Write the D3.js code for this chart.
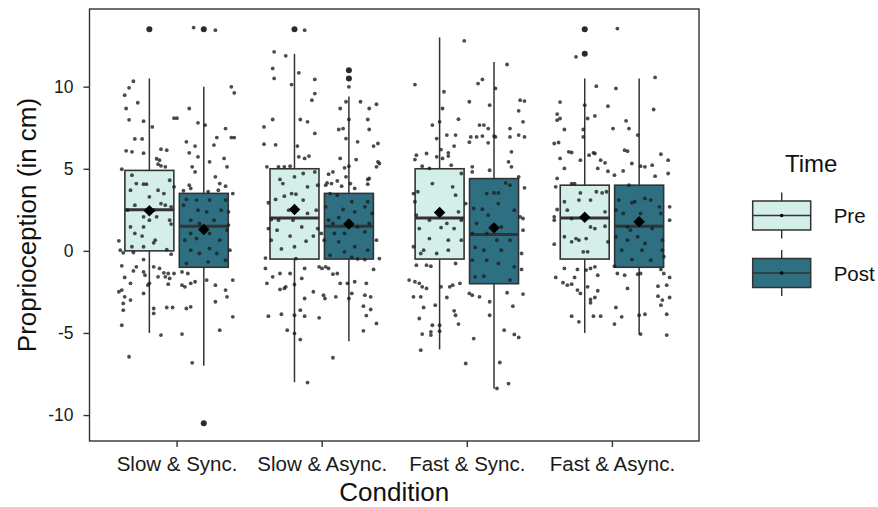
<!DOCTYPE html>
<html lang="en">
<head>
<meta charset="UTF-8">
<title>Proprioception by Condition and Time</title>
<script src="https://d3js.org/d3.v7.min.js"></script>
<style>
  body { margin: 0; background: #fff; }
  svg { display: block; font-family: "Liberation Sans", Arial, sans-serif; }
</style>
</head>
<body>
<svg id="chart" width="878" height="507"></svg>
<script>
// categories and groups
const conditions = ["Slow & Sync.", "Slow & Async.", "Fast & Sync.", "Fast & Async."];
const times = ["Pre", "Post"];
const yTicks = [-10, -5, 0, 5, 10];

// box statistics, one [Pre, Post] pair per condition
const whiskerLow  = [[-5, -7], [-8, -5.5], [-6, -8.4], [-5, -5.1]];
const q1          = [[0, -1], [-0.5, -0.5], [-0.5, -2], [-0.5, -1]];
const median      = [[2.5, 1.5], [2.0, 1.5], [2.0, 1.0], [2.0, 1.5]];
const q3          = [[4.9, 3.5], [5, 3.5], [5, 4.4], [4.0, 4.0]];
const whiskerHigh = [[10.5, 10], [12, 9.4], [13, 11.5], [10.5, 10.5]];
const means       = [[2.44, 1.3], [2.52, 1.63], [2.33, 1.4], [2.05, 1.77]];
const outliers    = [[[13.5], [13.5, -10.5]], [[13.5], [11, 10.5]], [[], []], [[13.5, 12], []]];

// jittered observations: [horizontal jitter (category units), value in cm]
const slowSyncPre = [[-0.11,10.33],[-0.14,9.93],[-0.17,9.48],[-0.08,9.02],[-0.16,8.67],[-0.14,7.98],[-0.04,7.9],[0.02,7.55],[0.17,8.08],[0.19,8.08],[-0.10,6.82],[-0.05,6.82],[-0.16,6.09],[-0.12,6.03],[-0.04,5.95],[0.08,6.19],[0.12,6.13],[0.05,5.61],[0.07,5.52],[0.06,5.28],[0.08,5.18],[0.11,5.12],[-0.19,4.97],[-0.12,4.61],[-0.09,4.1],[-0.04,4.06],[-0.02,4.06],[0.14,4.3],[0.17,3.9],[-0.13,3.69],[0.06,3.69],[0.10,3.49],[0.0,3.29],[-0.10,2.78],[0.08,2.88],[0.11,2.78],[0.15,2.68],[-0.15,2.48],[0.03,2.48],[-0.04,2.07],[0.05,2.07],[0.0,1.87],[0.14,1.87],[0.15,1.63],[-0.13,1.46],[-0.04,1.46],[-0.10,1.06],[-0.05,0.9],[-0.21,0.61],[0.04,0.65],[0.03,0.49],[-0.12,0.25],[-0.04,0.25],[0.12,0.08],[-0.20,0.04],[-0.18,-0.12],[-0.11,-0.1],[-0.04,-0.53],[0.03,-0.97],[0.15,-0.2],[-0.19,-0.91],[-0.09,-0.97],[-0.04,-1.28],[0.07,-1.07],[0.10,-1.34],[0.11,-1.58],[0.13,-1.38],[0.14,-1.68],[0.17,-1.38],[-0.17,-1.62],[-0.11,-1.22],[-0.03,-1.48],[0.0,-1.98],[-0.01,-2.09],[-0.13,-1.98],[0.06,-1.58],[0.13,-2.03],[-0.19,-2.39],[-0.17,-2.8],[-0.04,-2.59],[-0.21,-2.49],[-0.13,-3.0],[-0.18,-3.2],[-0.18,-3.61],[0.03,-3.51],[0.03,-3.81],[0.12,-3.45],[0.16,-3.45],[-0.19,-4.53],[0.08,-5.13],[-0.14,-6.45]];
const slowSyncPost = [[-0.07,13.6],[0.08,13.44],[0.19,9.99],[0.21,9.62],[-0.10,8.67],[-0.04,7.8],[0.01,7.66],[0.15,7.45],[0.09,6.9],[0.19,6.9],[0.21,6.9],[-0.12,6.64],[0.07,6.44],[-0.06,6.38],[-0.10,5.97],[-0.04,5.73],[0.04,5.42],[0.14,5.63],[0.16,5.12],[-0.08,5.12],[-0.06,4.81],[0.08,4.51],[0.11,4.1],[0.15,3.94],[-0.10,4.0],[-0.09,3.8],[-0.14,3.66],[0.03,3.6],[0.10,3.69],[0.20,3.49],[-0.12,3.13],[-0.05,3.09],[0.04,3.09],[0.15,3.09],[-0.14,2.78],[-0.04,2.48],[0.02,2.38],[0.12,2.48],[0.17,2.38],[-0.09,1.87],[-0.03,1.67],[0.07,1.87],[0.17,1.57],[-0.09,1.06],[0.04,1.06],[0.16,1.26],[-0.13,0.65],[-0.05,0.75],[0.11,0.65],[0.04,0.14],[-0.09,0.04],[0.09,-0.16],[-0.03,-0.16],[0.18,0.04],[0.15,-0.57],[-0.12,-0.77],[0.03,-0.67],[-0.15,-1.28],[-0.11,-1.38],[0.02,-1.78],[0.20,-1.78],[-0.15,-2.09],[-0.09,-1.98],[-0.06,-1.88],[0.08,-2.09],[0.15,-2.39],[-0.13,-2.19],[-0.09,-3.41],[0.08,-3.1],[0.16,-2.8],[-0.12,-3.51],[0.20,-4.02],[-0.15,-5.07],[0.11,-4.83],[-0.08,-6.82]];
const slowAsyncPre = [[0.07,13.44],[-0.14,12.12],[-0.06,11.88],[-0.15,11.11],[-0.14,10.5],[0.03,10.84],[0.14,10.44],[-0.02,10.13],[0.14,9.58],[0.12,9.18],[-0.21,7.55],[-0.15,8.0],[0.04,8.0],[0.09,7.86],[0.14,7.15],[-0.21,6.5],[-0.13,6.46],[0.02,6.38],[0.07,5.63],[0.10,5.77],[0.03,5.73],[-0.19,5.12],[-0.11,5.12],[-0.07,5.12],[-0.03,5.16],[0.06,4.71],[0.14,4.81],[-0.10,4.35],[-0.08,4.1],[0.0,4.51],[0.16,4.0],[0.09,3.9],[-0.13,3.13],[-0.07,3.33],[-0.02,3.49],[0.01,3.45],[0.06,3.09],[-0.18,2.93],[-0.04,2.48],[-0.11,1.87],[0.09,2.28],[0.15,2.48],[-0.16,1.91],[-0.01,1.87],[0.05,1.46],[-0.18,1.36],[-0.12,1.26],[0.16,1.36],[-0.03,0.9],[0.13,0.9],[-0.16,0.65],[0.08,0.59],[-0.09,0.12],[0.0,0.25],[-0.20,-0.44],[0.01,-0.47],[-0.20,-1.07],[-0.15,-1.58],[-0.10,-1.38],[-0.03,-1.38],[0.07,-1.07],[0.17,-0.97],[0.19,-1.07],[0.05,-1.68],[-0.19,-1.98],[-0.10,-2.35],[-0.06,-2.19],[-0.07,-2.29],[0.0,-2.05],[0.07,-2.9],[0.13,-2.49],[0.20,-2.7],[0.21,-2.9],[0.04,-3.61],[0.07,-3.98],[-0.09,-3.86],[-0.18,-3.98],[0.0,-3.92],[-0.05,-4.83],[0.0,-5.03],[0.04,-5.4],[0.17,-4.08],[0.09,-8.02]];
const slowAsyncPost = [[0.0,9.99],[0.08,9.08],[0.14,8.67],[0.19,8.93],[-0.06,8.67],[-0.02,9.08],[0.13,8.0],[0.14,7.39],[-0.07,7.39],[-0.04,7.45],[0.0,8.0],[0.06,6.64],[0.20,6.54],[0.17,6.38],[-0.02,6.84],[-0.06,5.63],[0.05,5.56],[0.20,5.42],[0.21,5.32],[0.19,5.12],[0.0,5.16],[-0.03,5.06],[-0.11,4.81],[-0.14,4.67],[-0.15,4.14],[-0.12,4.1],[-0.16,4.0],[-0.08,4.26],[-0.02,4.51],[0.13,4.35],[0.14,4.41],[0.13,4.06],[0.01,4.1],[-0.05,3.94],[0.04,3.8],[-0.13,3.49],[-0.08,3.39],[0.02,2.99],[0.13,2.99],[-0.16,2.68],[-0.04,2.52],[0.11,2.68],[0.16,2.28],[0.04,2.38],[-0.14,1.87],[-0.07,2.03],[-0.11,1.67],[0.06,1.46],[0.14,1.67],[-0.19,1.06],[-0.10,1.06],[-0.03,1.06],[0.11,1.16],[0.19,0.65],[-0.17,0.65],[-0.07,0.55],[0.04,0.25],[0.13,0.04],[-0.03,-0.06],[-0.13,-0.26],[0.02,-0.4],[0.21,-0.47],[0.06,-0.49],[0.11,-0.53],[-0.16,-0.97],[-0.14,-1.07],[-0.11,-1.42],[-0.08,-1.38],[0.17,-1.13],[-0.06,-1.98],[-0.01,-1.98],[0.04,-1.88],[0.12,-1.98],[-0.09,-2.8],[0.02,-2.59],[0.0,-2.9],[0.11,-2.7],[0.15,-2.8],[0.10,-3.37],[0.15,-3.57],[0.12,-3.94],[0.19,-4.42],[0.10,-4.87],[-0.11,-6.51]];
const fastSyncPre = [[0.17,12.79],[-0.17,10.13],[0.03,9.69],[0.02,8.67],[0.13,8.02],[-0.05,7.66],[0.0,7.86],[-0.02,6.84],[0.05,7.05],[0.11,7.05],[0.10,6.38],[0.01,6.17],[0.06,5.97],[0.06,5.77],[-0.09,5.93],[-0.16,5.83],[-0.17,5.56],[-0.02,5.73],[0.02,5.63],[0.08,5.22],[-0.12,5.16],[-0.07,5.02],[0.15,4.71],[-0.05,4.1],[0.09,3.9],[-0.15,3.6],[-0.18,3.49],[0.11,3.39],[-0.17,2.99],[0.18,2.88],[0.13,2.38],[-0.16,2.18],[-0.07,1.87],[0.05,1.67],[0.15,1.87],[0.01,1.42],[0.10,1.36],[-0.14,1.36],[-0.07,0.75],[0.06,0.65],[0.15,0.65],[-0.18,0.25],[-0.11,0.04],[-0.13,-0.16],[-0.02,-0.16],[0.06,0.04],[-0.16,-0.87],[-0.09,-0.87],[-0.06,-0.93],[0.11,-0.77],[-0.21,-1.78],[-0.17,-1.88],[-0.14,-1.98],[-0.12,-2.19],[-0.09,-2.29],[0.01,-2.19],[0.07,-2.19],[0.09,-2.09],[0.14,-1.98],[-0.18,-2.8],[-0.13,-2.8],[0.05,-2.84],[-0.11,-3.45],[-0.03,-3.31],[0.10,-3.65],[0.11,-3.92],[-0.14,-4.12],[0.13,-4.46],[-0.05,-4.53],[0.0,-4.53],[-0.12,-5.07],[-0.06,-4.93],[-0.06,-5.13],[0.0,-4.89],[-0.13,-6.05],[0.18,-6.86]];
const fastSyncPost = [[-0.17,9.08],[0.09,11.35],[-0.08,10.44],[-0.11,10.19],[0.01,9.89],[-0.03,8.87],[0.18,9.18],[0.21,9.12],[0.17,8.53],[0.20,7.86],[-0.10,7.66],[-0.07,7.66],[-0.04,7.45],[0.11,7.45],[0.17,7.05],[-0.16,6.94],[-0.12,6.94],[-0.08,6.99],[0.0,6.99],[0.01,6.94],[0.11,6.94],[0.21,6.94],[-0.04,6.58],[-0.17,6.62],[0.12,6.03],[0.10,5.42],[0.12,5.12],[-0.03,4.91],[-0.15,5.12],[0.17,4.51],[-0.15,4.81],[0.08,4.14],[0.11,4.0],[0.21,3.84],[-0.05,3.49],[0.0,3.53],[0.03,3.53],[0.03,2.88],[-0.14,2.58],[-0.08,2.54],[-0.04,2.18],[0.14,2.48],[0.18,2.07],[0.20,1.97],[-0.12,1.67],[0.05,1.46],[-0.15,1.06],[-0.05,1.06],[0.20,1.26],[0.11,0.65],[0.02,0.65],[-0.13,0.21],[-0.07,0.04],[0.05,0.04],[0.19,-0.16],[-0.15,-0.57],[-0.05,-0.57],[0.03,-0.77],[0.14,-0.97],[0.19,-1.13],[-0.13,-1.58],[-0.07,-1.54],[0.11,-1.78],[-0.17,-2.59],[-0.15,-2.7],[-0.10,-2.8],[-0.03,-3.1],[0.09,-2.55],[0.20,-2.63],[0.13,-3.37],[-0.03,-3.92],[-0.14,-5.34],[0.07,-4.83],[0.14,-5.09],[0.17,-5.27],[0.04,-6.8],[0.02,-8.38],[0.10,-8.08]];
const fastAsyncPre = [[-0.06,11.82],[0.08,10.03],[-0.17,9.06],[-0.19,8.33],[-0.17,8.06],[-0.19,7.96],[0.02,8.06],[0.07,8.22],[-0.14,7.39],[-0.01,7.39],[-0.01,6.94],[0.0,8.87],[-0.21,6.54],[-0.18,6.6],[-0.17,5.63],[-0.11,6.03],[-0.09,5.99],[0.03,5.83],[0.06,5.97],[0.07,5.93],[0.11,5.52],[0.14,5.36],[-0.14,5.02],[-0.03,5.52],[-0.19,4.41],[0.09,5.02],[0.16,4.85],[0.16,8.81],[-0.09,4.1],[-0.07,4.1],[-0.20,3.9],[0.08,3.6],[0.12,3.53],[0.15,3.6],[-0.14,2.99],[-0.03,3.53],[-0.04,3.09],[0.04,3.09],[-0.19,2.52],[-0.12,2.48],[0.14,2.38],[-0.21,2.07],[-0.21,1.87],[-0.09,1.97],[0.04,1.46],[0.07,1.36],[0.14,1.5],[-0.14,0.86],[-0.06,0.75],[0.01,0.75],[-0.04,0.65],[-0.09,0.55],[-0.21,0.41],[0.16,0.55],[-0.01,-0.06],[0.02,-0.06],[-0.14,-1.07],[-0.05,-1.13],[0.01,-1.17],[0.04,-1.07],[0.07,-0.97],[0.09,-1.48],[-0.20,-1.62],[-0.15,-1.94],[-0.12,-2.09],[-0.09,-2.03],[-0.07,-1.62],[-0.05,-2.39],[-0.03,-2.59],[0.02,-2.19],[0.09,-2.43],[0.04,-2.96],[0.07,-2.84],[0.04,-3.16],[-0.09,-3.98],[0.06,-3.98],[0.11,-3.98],[-0.04,-4.32]];
const fastAsyncPost = [[-0.15,13.54],[0.11,10.56],[-0.16,9.89],[0.10,8.61],[-0.09,7.92],[-0.18,7.45],[-0.07,7.45],[-0.01,7.05],[-0.10,6.13],[-0.08,6.07],[-0.05,5.32],[-0.11,4.87],[-0.17,4.61],[0.01,5.16],[0.04,5.12],[0.09,5.22],[0.11,4.55],[0.15,5.89],[0.20,5.52],[0.20,4.71],[-0.07,4.0],[0.04,3.19],[-0.03,2.99],[0.08,3.09],[-0.05,2.93],[-0.14,3.09],[0.14,2.68],[0.21,2.68],[-0.16,2.48],[-0.11,2.28],[0.01,2.28],[0.15,2.28],[0.21,1.87],[-0.08,1.46],[-0.06,1.26],[0.09,1.36],[-0.16,0.86],[-0.08,0.65],[-0.01,0.86],[0.04,0.45],[0.16,0.65],[-0.12,0.04],[-0.05,-0.53],[0.02,0.04],[0.08,-0.57],[0.16,0.04],[0.17,-0.36],[-0.17,-0.93],[-0.15,-1.38],[-0.10,-1.48],[-0.01,-1.42],[0.01,-1.38],[0.15,-1.13],[0.17,-1.38],[0.21,-1.62],[-0.08,-2.29],[0.13,-2.15],[0.19,-2.09],[0.13,-2.76],[0.16,-3.0],[0.21,-2.84],[0.15,-3.31],[-0.16,-3.45],[-0.12,-4.02],[0.04,-3.86],[0.0,-3.92],[0.19,-3.86],[-0.17,-4.46],[0.01,-5.07],[0.19,-5.13]];
const observations = [[slowSyncPre, slowSyncPost], [slowAsyncPre, slowAsyncPost], [fastSyncPre, fastSyncPost], [fastAsyncPre, fastAsyncPost]];

// layout
const panel = { left: 89.5, right: 699, top: 9, bottom: 441 };
const svg = d3.select("#chart");

const x = d3.scalePoint()
    .domain(conditions)
    .range([panel.left, panel.right])
    .padding(0.6);
const step = x.step();

const dodge = d3.scaleBand()
    .domain(times)
    .range([-0.375 * step, 0.375 * step])
    .paddingInner(0.1)
    .paddingOuter(0.05);
const jitter = d3.scaleLinear().domain([0, 1]).range([0, step]);

const y = d3.scaleLinear()
    .domain([-11.58, 14.73])
    .range([panel.bottom, panel.top]);

const fill = d3.scaleOrdinal().domain(times).range(["#d4eeea", "#2f6f82"]);
const lineCol = "#333333";

// boxes
const boxData = [];
conditions.forEach((c, i) => {
    times.forEach((t, j) => {
        boxData.push({
            cond: c, time: t,
            lo: whiskerLow[i][j], q1: q1[i][j], med: median[i][j], q3: q3[i][j],
            hi: whiskerHigh[i][j], mean: means[i][j], out: outliers[i][j],
            pts: observations[i][j]
        });
    });
});
const cx = d => x(d.cond) + dodge(d.time) + dodge.bandwidth() / 2;
const bw = dodge.bandwidth();

const boxes = svg.append("g").selectAll("g").data(boxData).join("g");

boxes.append("line")
    .attr("x1", cx).attr("x2", cx)
    .attr("y1", d => y(d.hi)).attr("y2", d => y(d.q3))
    .attr("stroke", lineCol).attr("stroke-width", 1.5);
boxes.append("line")
    .attr("x1", cx).attr("x2", cx)
    .attr("y1", d => y(d.q1)).attr("y2", d => y(d.lo))
    .attr("stroke", lineCol).attr("stroke-width", 1.5);
boxes.append("rect")
    .attr("x", d => cx(d) - bw / 2)
    .attr("width", bw)
    .attr("y", d => y(d.q3))
    .attr("height", d => y(d.q1) - y(d.q3))
    .attr("fill", d => fill(d.time))
    .attr("stroke", lineCol).attr("stroke-width", 1.6);
boxes.append("line")
    .attr("x1", d => cx(d) - bw / 2).attr("x2", d => cx(d) + bw / 2)
    .attr("y1", d => y(d.med)).attr("y2", d => y(d.med))
    .attr("stroke", lineCol).attr("stroke-width", 3);
boxes.selectAll("circle.out")
    .data(d => d.out.map(v => ({ x: cx(d), v })))
    .join("circle")
    .attr("class", "out")
    .attr("cx", d => d.x).attr("cy", d => y(d.v))
    .attr("r", 3)
    .attr("fill", "#2b2b2b");

// jittered points
boxes.selectAll("circle.pt")
    .data(d => d.pts.map(p => ({ x: cx(d) + jitter(p[0]), v: p[1] })))
    .join("circle")
    .attr("class", "pt")
    .attr("cx", d => d.x).attr("cy", d => y(d.v))
    .attr("r", 1.9)
    .attr("fill", "#1e1e1e")
    .attr("opacity", 0.8);

// mean diamonds
const diamond = d3.symbol().type(d3.symbolSquare).size(66);
svg.append("g").selectAll("path").data(boxData).join("path")
    .attr("d", diamond)
    .attr("transform", d => `translate(${cx(d)},${y(d.mean)}) rotate(45)`)
    .attr("fill", "#000");

// panel border
svg.append("rect")
    .attr("x", panel.left).attr("y", panel.top)
    .attr("width", panel.right - panel.left)
    .attr("height", panel.bottom - panel.top)
    .attr("fill", "none")
    .attr("stroke", lineCol).attr("stroke-width", 1.4);

// axes
const xAxis = svg.append("g")
    .attr("transform", `translate(0,${panel.bottom})`)
    .call(d3.axisBottom(x).tickSize(6).tickPadding(9).tickSizeOuter(0));
xAxis.select(".domain").remove();
xAxis.selectAll("line").attr("stroke", lineCol).attr("stroke-width", 1.4);
xAxis.selectAll("text").attr("font-size", 20.5).attr("fill", "#1a1a1a")
    .attr("font-family", "Liberation Sans, Arial, sans-serif");

const yAxis = svg.append("g")
    .attr("transform", `translate(${panel.left},0)`)
    .call(d3.axisLeft(y).tickValues(yTicks).tickFormat(d => String(d))
        .tickSize(6).tickPadding(10).tickSizeOuter(0));
yAxis.select(".domain").remove();
yAxis.selectAll("line").attr("stroke", lineCol).attr("stroke-width", 1.4);
yAxis.selectAll("text").attr("font-size", 17.5).attr("fill", "#1a1a1a")
    .attr("font-family", "Liberation Sans, Arial, sans-serif");

// axis titles
svg.append("text")
    .attr("x", (panel.left + panel.right) / 2)
    .attr("y", 501)
    .attr("text-anchor", "middle")
    .attr("font-size", 26)
    .attr("fill", "#111")
    .text("Condition");

svg.append("text")
    .attr("transform", `translate(36,${(panel.top + panel.bottom) / 2}) rotate(-90)`)
    .attr("text-anchor", "middle")
    .attr("font-size", 26)
    .attr("fill", "#111")
    .text("Proprioception (in cm)");

// legend
const legend = svg.append("g");
legend.append("text")
    .attr("x", 785).attr("y", 172)
    .attr("font-size", 24)
    .attr("fill", "#111")
    .text("Time");

const keyY = d3.scalePoint().domain(times).range([215.5, 273]);
const key = legend.selectAll("g.key").data(times).join("g")
    .attr("class", "key")
    .attr("transform", t => `translate(781.7,${keyY(t)})`);
key.append("line").attr("y1", -23).attr("y2", 23)
    .attr("stroke", lineCol).attr("stroke-width", 1.4);
key.append("rect")
    .attr("x", -29).attr("y", -14.5)
    .attr("width", 58).attr("height", 29)
    .attr("fill", t => fill(t))
    .attr("stroke", lineCol).attr("stroke-width", 1.5);
key.append("line").attr("x1", -29).attr("x2", 29)
    .attr("stroke", lineCol).attr("stroke-width", 1.6);
key.append("circle").attr("r", 1.8).attr("fill", "#000");
key.append("text")
    .attr("x", 52).attr("y", 7.5)
    .attr("font-size", 20.5)
    .attr("fill", "#111")
    .text(t => t);
</script>
</body>
</html>
